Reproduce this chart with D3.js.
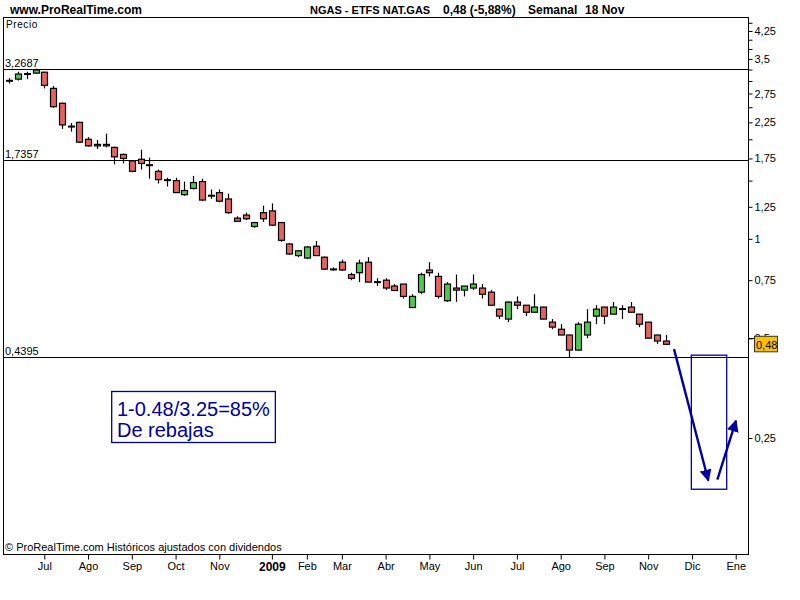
<!DOCTYPE html>
<html><head><meta charset="utf-8">
<script src="https://cdn.jsdelivr.net/npm/d3@7"></script>
<style>
body{margin:0;background:#fff}
svg{display:block}
text{font-family:Arial,"Liberation Sans",sans-serif}
</style>
</head><body>
<svg id="c" width="800" height="600"></svg>
<script>
// ---- data (weekly candles, NGAS) ----
const open=[3.00,3.04,3.15,3.17,3.19,2.85,2.57,2.18,2.25,2.00,
1.91,1.91,1.89,1.80,1.72,1.74,1.67,1.60,1.50,1.50,
1.36,1.42,1.49,1.35,1.38,1.32,1.155,1.18,1.09,1.20,
1.215,1.12,0.965,0.89,0.875,0.95,0.88,0.81,0.85,0.78,
0.79,0.85,0.74,0.75,0.72,0.73,0.62,0.69,0.805,0.77,
0.65,0.71,0.70,0.71,0.71,0.69,0.613,0.572,0.644,0.63,
0.60,0.622,0.56,0.533,0.512,0.461,0.512,0.584,0.622,0.592,
0.613,0.622,0.592,0.56,0.512,0.491];
const high=[3.06,3.20,3.20,3.27,3.20,2.90,2.58,2.24,2.26,2.03,
1.99,2.08,1.90,1.81,1.73,1.86,1.76,1.62,1.53,1.53,
1.49,1.55,1.52,1.41,1.41,1.37,1.17,1.20,1.125,1.26,
1.28,1.125,0.97,0.925,0.95,0.985,0.885,0.82,0.865,0.79,
0.865,0.88,0.76,0.76,0.73,0.73,0.68,0.79,0.85,0.79,
0.74,0.78,0.72,0.78,0.73,0.70,0.615,0.647,0.67,0.631,
0.68,0.623,0.572,0.552,0.513,0.56,0.613,0.63,0.623,0.644,
0.63,0.644,0.593,0.561,0.513,0.512];
const low=[2.95,3.01,3.04,3.16,2.85,2.49,2.15,2.11,1.95,1.90,
1.87,1.89,1.68,1.69,1.59,1.62,1.52,1.47,1.44,1.38,
1.35,1.41,1.30,1.32,1.29,1.19,1.13,1.14,1.08,1.125,
1.095,0.98,0.895,0.88,0.87,0.89,0.805,0.80,0.80,0.75,
0.74,0.74,0.72,0.70,0.697,0.66,0.62,0.68,0.77,0.66,
0.645,0.645,0.67,0.70,0.66,0.63,0.572,0.56,0.613,0.584,
0.599,0.571,0.533,0.511,0.439,0.46,0.501,0.552,0.552,0.591,
0.572,0.599,0.541,0.50,0.481,0.48];
const close=[3.01,3.15,3.15,3.24,2.91,2.51,2.21,2.19,1.96,1.91,
1.93,1.93,1.77,1.75,1.60,1.69,1.67,1.51,1.51,1.38,
1.40,1.48,1.31,1.35,1.30,1.20,1.13,1.15,1.12,1.15,
1.10,0.99,0.90,0.92,0.945,0.89,0.81,0.807,0.805,0.76,
0.845,0.74,0.74,0.71,0.698,0.67,0.67,0.78,0.79,0.67,
0.73,0.70,0.72,0.73,0.68,0.63,0.584,0.644,0.63,0.60,
0.622,0.572,0.541,0.512,0.461,0.552,0.56,0.613,0.584,0.622,
0.614,0.60,0.552,0.501,0.491,0.48];

const xTickIdx=[4,9,14,19,24,30,34,38,43,48,53,58,63,68,73,78,83];
const xTickLabels=["Jul","Ago","Sep","Oct","Nov","2009","Feb","Mar","Abr","May","Jun","Jul","Ago","Sep","Nov","Dic","Ene"];
const yTicks=[0.25,0.5,0.75,1,1.25,1.5,1.75,2,2.25,2.5,2.75,3,3.25,3.5,3.75,4,4.25,4.5];
const yLabels=[0.25,0.5,0.75,1,1.25,1.75,2.25,2.75,3.5,4.25];
const levels=[3.2687,1.7357,0.4395];
const levelLabels=["3,2687","1,7357","0,4395"];
const lastPrice=0.48;
const lastLabel="0,48";
// annotation (in candle index / price units)
const arrowDown=[[75.95,0.464],[79.87,0.186]];
const arrowUp=[[80.9,0.187],[83.03,0.282]];
const zoneBox=[[77.93,0.445],[81.97,0.175]];
const noteBox=[[11.7,0.3456],[30.4,0.2423]];
const noteLines=["1-0.48/3.25=85%","De rebajas"];
const notePos=[[12.3,0.2904],[12.3,0.2526]];

const svg=d3.select("#c");
const L=3.5,R=748.5,T=17.5,B=554.5;
const x=d3.scaleLinear().domain([0,75]).range([9.3,665.7]);
const y=d3.scaleLog().domain([0.25,4.25]).range([438,31]);
const RED="#e06464",GREEN="#50c850",BLUE="#0000a0";

svg.append("rect").attr("width",800).attr("height",600).attr("fill","#fff");

// header
svg.append("text").attr("x",10).attr("y",14).attr("font-size",12).attr("font-weight","bold").text("www.ProRealTime.com");
svg.append("text").attr("x",310).attr("y",14).attr("font-size",11).attr("font-weight","bold").text("NGAS - ETFS NAT.GAS");
svg.append("text").attr("x",443).attr("y",14).attr("font-size",12).attr("font-weight","bold").text("0,48 (-5,88%)");
svg.append("text").attr("x",528).attr("y",14).attr("font-size",12).attr("font-weight","bold").text("Semanal");
svg.append("text").attr("x",585).attr("y",14).attr("font-size",12).attr("font-weight","bold").text("18 Nov");

// frame
svg.append("rect").attr("x",L).attr("y",T).attr("width",R-L).attr("height",B-T)
  .attr("fill","none").attr("stroke","#000").attr("stroke-width",1);

svg.append("text").attr("x",6).attr("y",28).attr("font-size",10).attr("letter-spacing",0.6).text("Precio");

// level lines
levels.forEach((v,i)=>{
  const yy=Math.round(y(v))+0.5;
  svg.append("line").attr("x1",L).attr("x2",R).attr("y1",yy).attr("y2",yy).attr("stroke","#000").attr("stroke-width",1);
  svg.append("text").attr("x",5).attr("y",yy-2.5).attr("font-size",11).text(levelLabels[i]);
});

// y axis
const yAxis=d3.axisRight(y).tickValues(yTicks).tickSize(4).tickSizeOuter(0).tickPadding(2)
  .tickFormat(v=>yLabels.includes(v)?String(v).replace(".",","):"");
const ga=svg.append("g").attr("transform",`translate(${R},0)`).call(yAxis);
ga.select(".domain").remove();
ga.selectAll("text").attr("font-size",11).attr("fill","#000").attr("font-family","Arial,'Liberation Sans',sans-serif");
ga.selectAll("line").attr("stroke","#000");

// x axis
const xAxis=d3.axisBottom(x).tickValues(xTickIdx).tickSize(5).tickSizeOuter(0).tickPadding(3)
  .tickFormat((d,i)=>xTickLabels[i]);
const gx=svg.append("g").attr("transform",`translate(0,${B})`).call(xAxis);
gx.select(".domain").remove();
gx.selectAll("text").attr("font-size",11).attr("fill","#000").attr("font-family","Arial,'Liberation Sans',sans-serif")
  .attr("font-weight",(d,i)=>xTickLabels[i]==="2009"?"bold":"normal")
  .attr("font-size",(d,i)=>xTickLabels[i]==="2009"?12:11);
gx.selectAll("line").attr("stroke","#000");

// candles
const idx=d3.range(open.length);
const bw=7;
const g=svg.append("g");
idx.forEach(i=>{
  const cx=Math.round(x(i))+0.5;
  g.append("line").attr("x1",cx).attr("x2",cx).attr("y1",y(high[i])).attr("y2",y(low[i])).attr("stroke","#000").attr("stroke-width",1.2);
  const yo=y(open[i]),yc=y(close[i]);
  const h=Math.abs(yo-yc);
  if(h<1.2){
    g.append("line").attr("x1",cx-bw/2).attr("x2",cx+bw/2).attr("y1",(yo+yc)/2).attr("y2",(yo+yc)/2).attr("stroke","#000").attr("stroke-width",2);
  }else{
    g.append("rect").attr("x",cx-bw/2+0.5).attr("y",Math.min(yo,yc)).attr("width",bw-1).attr("height",h)
      .attr("fill",close[i]>=open[i]?GREEN:RED).attr("stroke","#000").attr("stroke-width",1.2);
  }
});

// last price marker
const yl=y(lastPrice);
svg.append("line").attr("x1",R).attr("x2",R+6).attr("y1",y(0.5)).attr("y2",y(0.5)).attr("stroke","#000");
svg.append("rect").attr("x",754.5).attr("y",yl-8).attr("width",23).attr("height",15.5)
  .attr("fill","#ffc000").attr("stroke","#333").attr("stroke-width",1);
svg.append("text").attr("x",756).attr("y",yl+4.5).attr("font-size",11).text(lastLabel);

// footer
svg.append("text").attr("x",5).attr("y",551).attr("font-size",11).text("© ProRealTime.com  Históricos ajustados con dividendos");

// annotations
const defs=svg.append("defs");
defs.append("marker").attr("id","ah").attr("viewBox","0 0 10 10").attr("refX",9).attr("refY",5)
  .attr("markerWidth",5).attr("markerHeight",5).attr("markerUnits","strokeWidth").attr("orient","auto")
  .append("path").attr("d","M0,0L10,5L0,10z").attr("fill",BLUE);
[arrowDown,arrowUp].forEach(a=>{
  svg.append("line").attr("x1",x(a[0][0])).attr("y1",y(a[0][1])).attr("x2",x(a[1][0])).attr("y2",y(a[1][1]))
    .attr("stroke",BLUE).attr("stroke-width",2.4).attr("marker-end","url(#ah)");
});
svg.append("rect").attr("x",x(zoneBox[0][0])).attr("y",y(zoneBox[0][1]))
  .attr("width",x(zoneBox[1][0])-x(zoneBox[0][0])).attr("height",y(zoneBox[1][1])-y(zoneBox[0][1]))
  .attr("fill","none").attr("stroke",BLUE).attr("stroke-width",1.3);
svg.append("rect").attr("x",x(noteBox[0][0])).attr("y",y(noteBox[0][1]))
  .attr("width",x(noteBox[1][0])-x(noteBox[0][0])).attr("height",y(noteBox[1][1])-y(noteBox[0][1]))
  .attr("fill","#fff").attr("stroke",BLUE).attr("stroke-width",1.3);
noteLines.forEach((t,i)=>{
  svg.append("text").attr("x",x(notePos[i][0])).attr("y",y(notePos[i][1])).attr("font-size",20).attr("fill","#000099").text(t);
});
</script>
</body></html>
